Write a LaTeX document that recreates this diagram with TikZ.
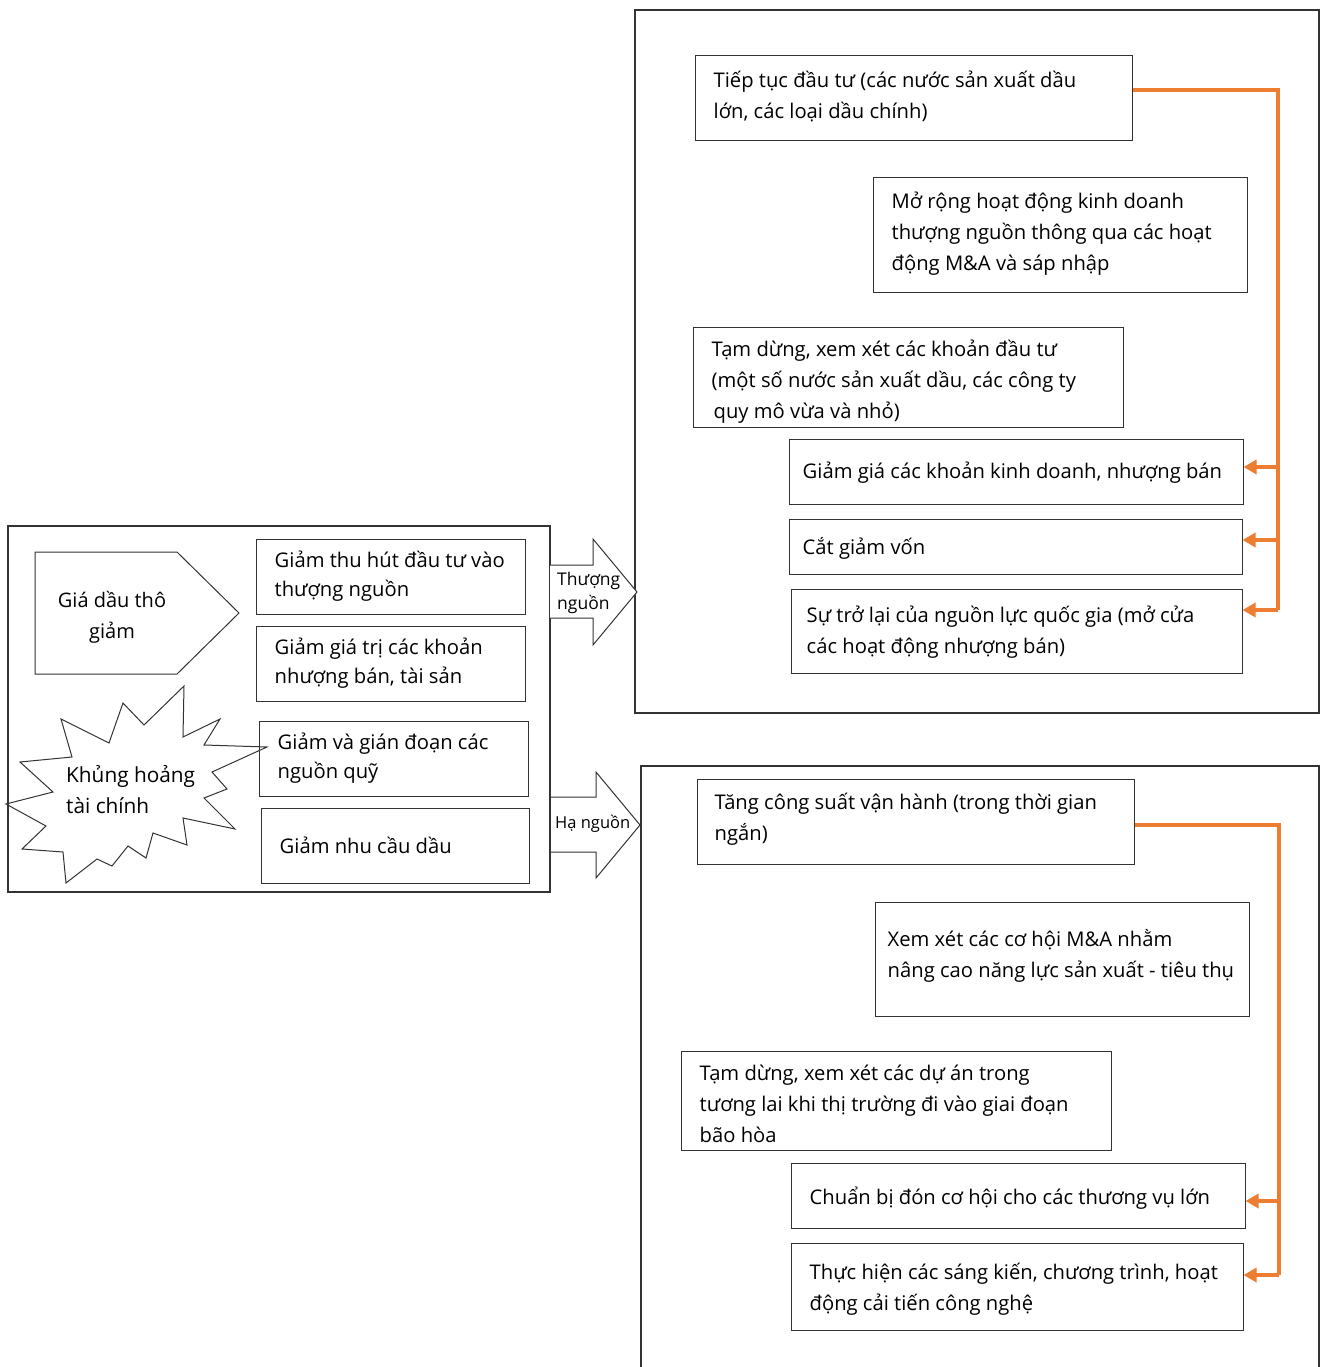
\documentclass[tikz,border=0pt]{standalone}
\usepackage{fontspec}
\setmainfont{Open Sans}
\usetikzlibrary{arrows.meta}
\definecolor{orng}{HTML}{ED7D31}
\definecolor{edge}{HTML}{333333}
\tikzset{
  bx/.style={draw=edge, line width=1pt, rectangle, anchor=center, inner sep=0pt},
  txt/.style={align=left, anchor=west, inner sep=0pt, font=\fontsize{20.2}{31}\selectfont},
  txtl/.style={align=left, anchor=west, inner sep=0pt, font=\fontsize{20.2}{29}\selectfont},
  panel/.style={draw=edge, line width=1.1pt},
  shp/.style={draw=edge, line width=1pt},
  orl/.style={draw=orng, line width=3.5pt},
  ora/.style={draw=orng, line width=3.5pt, -{Triangle[length=13pt,width=14pt]}},
  lbl/.style={font=\fontsize{20}{31}\selectfont, inner sep=0pt},
  small/.style={font=\fontsize{17.5}{24}\selectfont, inner sep=0pt, align=left}
}
\begin{document}
\begin{tikzpicture}[x=1pt,y=-1pt]
\useasboundingbox (0,0) rectangle (1322,1367);
% panels
\draw[panel] (635,10) rectangle (1319,713);
\draw[panel] (641,1367) -- (641,766) -- (1319,766) -- (1319,1367);
\draw[panel] (8,526) rectangle (550,892);

% upstream boxes
\node[bx, minimum width=437pt, minimum height=85pt] (T1) at (913.5,98.5) {};
\node[txt] (T1t) at ([xshift=19pt, yshift=2.5pt]T1.west)
  {Tiếp tục đầu tư (các nước sản xuất dầu\\lớn, các loại dầu chính)};
\node[bx, minimum width=374pt, minimum height=114pt] (T2) at (1060,235) {};
\node[txt] (T2t) at ([xshift=19pt, yshift=1pt]T2.west)
  {Mở rộng hoạt động kinh doanh\\thượng nguồn thông qua các hoạt\\động M\&A và sáp nhập};
\node[bx, minimum width=430pt, minimum height=100pt] (T3) at (908,377) {};
\node[txt] (T3t) at ([xshift=19pt, yshift=-5pt]T3.west)
  {Tạm dừng, xem xét các khoản đầu tư\\(một số nước sản xuất dầu, các công ty\\\hspace*{2pt}quy mô vừa và nhỏ)};
\node[bx, minimum width=454pt, minimum height=65pt] (T4) at (1016,471.5) {};
\node[txt] (T4t) at ([xshift=14pt, yshift=-1pt]T4.west)
  {Giảm giá các khoản kinh doanh, nhượng bán};
\node[bx, minimum width=453pt, minimum height=55pt] (T5) at (1015.5,546.5) {};
\node[txt] (T5t) at ([xshift=14pt, yshift=-2pt]T5.west)
  {Cắt giảm vốn};
\node[bx, minimum width=451pt, minimum height=84pt] (T6) at (1016.5,631) {};
\node[txt] (T6t) at ([xshift=16pt, yshift=-1pt]T6.west)
  {Sự trở lại của nguồn lực quốc gia (mở cửa\\các hoạt động nhượng bán)};

% downstream boxes
\node[bx, minimum width=437pt, minimum height=85pt] (B1) at (915.5,821.5) {};
\node[txt] (B1t) at ([xshift=18pt, yshift=2pt]B1.west)
  {Tăng công suất vận hành (trong thời gian\\ngắn)};
\node[bx, minimum width=374pt, minimum height=114pt] (B2) at (1062,959) {};
\node[txt] (B2t) at ([xshift=13pt, yshift=3pt]B2.west)
  {Xem xét các cơ hội M\&A nhằm\\nâng cao năng lực sản xuất - tiêu thụ};
\node[bx, minimum width=430pt, minimum height=99pt] (B3) at (896,1100.5) {};
\node[txt] (B3t) at ([xshift=19pt, yshift=-3pt]B3.west)
  {Tạm dừng, xem xét các dự án trong\\tương lai khi thị trường đi vào giai đoạn\\bão hòa};
\node[bx, minimum width=454pt, minimum height=65pt] (B4) at (1018,1195.5) {};
\node[txt] (B4t) at ([xshift=19pt, yshift=-3pt]B4.west)
  {Chuẩn bị đón cơ hội cho các thương vụ lớn};
\node[bx, minimum width=452pt, minimum height=87pt] (B5) at (1017,1286.5) {};
\node[txt] (B5t) at ([xshift=19pt, yshift=-3pt]B5.west)
  {Thực hiện các sáng kiến, chương trình, hoạt\\động cải tiến công nghệ};

% left boxes
\node[bx, minimum width=269pt, minimum height=75pt] (L1) at (390.5,576.5) {};
\node[txtl] (L1t) at ([xshift=19pt]L1.west) {Giảm thu hút đầu tư vào\\thượng nguồn};
\node[bx, minimum width=269pt, minimum height=75pt] (L2) at (390.5,663.5) {};
\node[txtl] (L2t) at ([xshift=19pt]L2.west) {Giảm giá trị các khoản\\nhượng bán, tài sản};
\node[bx, minimum width=269pt, minimum height=75pt] (L3) at (393.5,758.5) {};
\node[txtl] (L3t) at ([xshift=19pt]L3.west) {Giảm và gián đoạn các\\nguồn quỹ};
\node[bx, minimum width=268pt, minimum height=75pt] (L4) at (395,845.5) {};
\node[txtl] (L4t) at ([xshift=19pt]L4.west) {Giảm nhu cầu dầu};

% pentagon
\draw[shp] (35,552) -- (177,552) -- (239,613) -- (177,674) -- (35,674) -- cycle;
\node[lbl, align=center] (gia) at (112,617.5) {Giá dầu thô\\giảm};

% explosion
\draw[shp, line join=miter] (6,804) -- (53,792) -- (20,762) -- (72,757) -- (61,719) -- (109,743)
  -- (123,703) -- (144,725) -- (184,686) -- (183,737) -- (220,719) -- (204,745)
  -- (267,747) -- (212,772) -- (227,789) -- (204,798) -- (235,829) -- (183,818)
  -- (187,845) -- (153,833) -- (146,858) -- (128,846) -- (112,866) -- (97,859)
  -- (66,883) -- (63,852) -- (22,849) -- (46,826) -- cycle;
\node[lbl, align=left, anchor=west, font=\fontsize{20.8}{31}\selectfont] (kh) at (66,789.5) {Khủng hoảng\\tài chính};

% block arrows
\draw[shp, fill=white] (550,565) -- (593,565) -- (593,539) -- (637,592) -- (593,645) -- (593,618) -- (550,618);
\node[small, anchor=west] (up) at (557,593) {Thượng\\nguồn};
\draw[shp, fill=white] (551,797) -- (596,797) -- (596,772) -- (640,825) -- (596,878) -- (596,852) -- (551,852);
\node[small, anchor=west, font=\fontsize{16.5}{24}\selectfont] (down) at (555,824) {Hạ nguồn};

% orange connectors (upstream)
\coordinate (u0) at (1278,90);
\coordinate (u1) at (1278,467);
\coordinate (u2) at (1278,540);
\coordinate (u3) at (1278,610);
\draw[orl] (T1.east |- u0) -- (u0) -- (u3);
\draw[ora] (u1) -- (T4.east |- u1);
\draw[ora] (u2) -- (T5.east |- u2);
\draw[ora] (u3) -- (T6.east |- u3);

% orange connectors (downstream)
\coordinate (d0) at (1279,825);
\coordinate (d1) at (1279,1201);
\coordinate (d2) at (1279,1275);
\draw[orl] (B1.east |- d0) -- (d0) -- (d2);
\draw[ora] (d1) -- (B4.east |- d1);
\draw[ora] (d2) -- (B5.east |- d2);
\end{tikzpicture}
\end{document}
